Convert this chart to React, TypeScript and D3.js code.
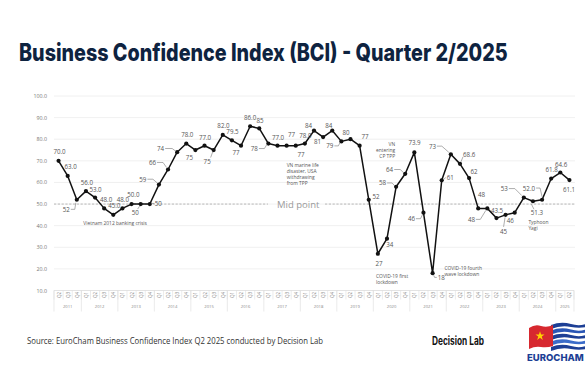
import React, { useEffect, useRef } from 'react';
import * as d3 from 'd3';

// quarters per year on the x axis
const years = ['2011', '2012', '2013', '2014', '2015', '2016', '2017', '2018', '2019', '2020', '2021', '2022', '2023', '2024', '2025'];
const yearQuarters = [
  ['Q2', 'Q3', 'Q4'],
  ['Q1', 'Q2', 'Q3', 'Q4'], ['Q1', 'Q2', 'Q3', 'Q4'], ['Q1', 'Q2', 'Q3', 'Q4'], ['Q1', 'Q2', 'Q3', 'Q4'],
  ['Q1', 'Q2', 'Q3', 'Q4'], ['Q1', 'Q2', 'Q3', 'Q4'], ['Q1', 'Q2', 'Q3', 'Q4'], ['Q1', 'Q2', 'Q3', 'Q4'],
  ['Q1', 'Q2', 'Q3', 'Q4'], ['Q1', 'Q2', 'Q3', 'Q4'], ['Q1', 'Q2', 'Q3', 'Q4'], ['Q1', 'Q2', 'Q3', 'Q4'],
  ['Q1', 'Q2', 'Q3', 'Q4'],
  ['Q1', 'Q2'],
];

const bci = [
  70.0, 63.0, 52,
  56.0, 53.0, 48.0, 45.0,
  48.0, 50.0, 50, 50,
  59, 66, 74, 78.0,
  75, 77.0, 75, 82.0,
  79.5, 77, 86.0, 85,
  78, 77.0, 77, 77,
  78.0, 84, 81, 84,
  79, 80, 77, 52,
  27, 34, 58, 64,
  73.9, 46, 18, 61,
  73, 68.6, 62, 48,
  48, 43.5, 45, 46,
  53, 51.3, 52.0, 61.8,
  64.6, 61.1,
];

const bciLabels = [
  '70.0', '63.0', '52',
  '56.0', '53.0', '48.0', '45.0',
  '48.0', '50.0', '50', '50',
  '59', '66', '74', '78.0',
  '75', '77.0', '75', '82.0',
  '79.5', '77', '86.0', '85',
  '78', '77.0', '77', '77',
  '78.0', '84', '81', '84',
  '79', '80', '77', '52',
  '27', '34', '58', '64',
  '73.9', '46', '18', '61',
  '73', '68.6', '62', '48',
  '48', '43.5', '45', '46',
  '53', '51.3', '52.0', '61.8',
  '64.6', '61.1',
];

const yTicks = [10, 20, 30, 40, 50, 60, 70, 80, 90, 100];

// label placement relative to each point: dx, dy, anchor, leader polyline
type Lab = [number, number, string, number[][]?];
const labelLayout: Lab[] = [
  [1, -9, 'middle'], [3, -9, 'middle'], [-7, 9.6, 'end', [[-6, 9.6], [-2, 9.6], [-1, 3]]],
  [1, -8.5, 'middle'], [0.5, -8.5, 'middle'], [2, -9, 'middle'], [1, -9, 'middle'],
  [0.5, -9, 'middle'], [1.8, -9.5, 'middle'], [-5.5, 8.5, 'middle', [[-3, 5], [-1, 2]]], [5, -1, 'start', [[1.5, -0.6], [4.5, -0.6]]],
  [-12.5, -5.4, 'end', [[-11.5, -5.4], [-6, -5.4], [-1.5, -1.5]]], [-12, -7, 'end', [[-11, -7], [-5, -7], [-1.5, -2]]],
  [-13, -3.7, 'end', [[-12, -3.7], [-5, -3.7], [-1.5, -1]]], [1, -9, 'middle'],
  [-6, 7, 'middle'], [0.5, -8, 'middle'], [-6.5, 11, 'middle', [[-3, 7.5], [-1, 2]]], [0.7, -9, 'middle'],
  [0.6, -8.5, 'middle'], [-5, 7, 'middle'], [0, -9, 'middle'], [0.8, -7.5, 'middle'],
  [-10.5, 5, 'end', [[-9.5, 5], [-4, 5], [-1.5, 1]]], [0.5, -8, 'middle'], [5, -11.5, 'middle'], [5.3, 8.5, 'middle'],
  [0.5, -8.5, 'middle'], [-5.5, -5.4, 'middle'], [-5.6, 4.8, 'middle'], [-3.4, -4.7, 'middle'],
  [-8, 4.5, 'end', [[-7, 4.5], [-3, 4.5], [-1.5, 1.5]]], [-4.4, -6.8, 'middle'], [5.4, -8.8, 'middle'], [7.3, -3.4, 'middle'],
  [1.2, 10, 'middle'], [2.8, 5.7, 'middle'], [-10, -3.8, 'end', [[-9, -3.8], [-4, -3.8], [-1.5, -1]]], [-12.2, -4.3, 'end', [[-11, -4.3], [-5, -4.3], [-1.5, -1]]],
  [0.2, -9.5, 'middle'], [-8.4, 6, 'end', [[-7.5, 6], [-3, 6], [-1, 2]]], [5.2, 4.2, 'start', [[1, 2], [2, 4.2], [4.2, 4.2]]], [5, -2.7, 'start', [[1.5, -0.5], [4, -2.7]]],
  [-14.8, -8.2, 'end', [[-14, -8.2], [-9, -8.2], [-2, -2]]], [3.1, -9.4, 'start', [[1, -2], [3, -7]]], [5, -6.9, 'middle'], [3.3, -14, 'middle'],
  [-12.3, 11, 'end', [[-11.5, 11], [-7, 11], [-1.5, 2]]], [0.6, -8, 'middle'], [-2, 17, 'middle', [[-0.5, 2.5], [-2, 12]]], [-4.5, 7.5, 'middle'],
  [-16, -9, 'end', [[-15, -9], [-9, -9], [-2, -2]]], [4, 11, 'middle', [[-1.5, 3], [1, 8]]], [-7, -11.7, 'end', [[-6, -11.7], [-2, -11.7], [0, -3]]], [0.4, -9.3, 'middle'],
  [0.8, -8.5, 'middle'], [-0.4, 9.5, 'middle'],
];

// event notes, placed in data space (point index, value)
const notes = [
  { i: 6.2, v: 41.2, anchor: 'middle', lines: ['Vietnam 2012 banking crisis'] },
  { i: 25, v: 68, anchor: 'start', lines: ['VN marine life', 'disaster, USA', 'withdrawing', 'from TPP'] },
  { i: 36.9, v: 77.6, anchor: 'end', lines: ['VN', 'entering', 'CP TPP'] },
  { i: 34.8, v: 16.5, anchor: 'start', lines: ['COVID-19 first', 'lockdown'] },
  { i: 42.3, v: 20.2, anchor: 'start', lines: ['COVID-19 fourth', 'wave lockdown'] },
  { i: 51.5, v: 41.5, anchor: 'start', lines: ['Typhoon', 'Yagi'] },
];

const font = "'Open Sans', 'Noto Sans', sans-serif";

const BciChart: React.FC = () => {
  const svgRef = useRef<SVGSVGElement>(null);

  useEffect(() => {
    if (!svgRef.current) return;
    const svg = d3.select(svgRef.current);
    svg.selectAll('*').remove();

    const W = 585, H = 365;
    const left = 54, right = 574;
    svg.append('rect').attr('width', W).attr('height', H).attr('fill', '#fff');

    const idx = bci.map((_, i) => i);
    const x = d3.scaleBand<number>().domain(idx).range([left, right]);
    const cx = (i: number) => (x(Math.floor(i)) ?? 0) + x.bandwidth() / 2 + (i % 1) * x.step();
    const y = d3.scaleLinear().domain([10, 100]).range([290.5, 96]);

    // title, squeezed horizontally to the reference width
    const title = svg.append('text')
      .attr('font-family', "Inter, 'Open Sans', sans-serif").attr('font-weight', 800)
      .attr('font-size', 24).attr('fill', '#0e2340')
      .text('Business Confidence Index (BCI) - Quarter 2/2025');
    const tw = (title.node() as SVGTextElement).getComputedTextLength() || 489;
    title.attr('transform', `translate(19,61) scale(${489 / tw},1)`);

    // grid
    const g = svg.append('g');
    g.selectAll('line.grid')
      .data(yTicks.filter(t => t > 10))
      .join('line')
      .attr('x1', left).attr('x2', right + 1)
      .attr('y1', d => y(d)).attr('y2', d => y(d))
      .attr('stroke', '#ececec').attr('stroke-width', 0.8);

    g.selectAll('text.ytick')
      .data(yTicks)
      .join('text')
      .attr('x', 47).attr('y', d => y(d))
      .attr('text-anchor', 'end').attr('dominant-baseline', 'central')
      .attr('font-family', font).attr('font-size', 5.3).attr('fill', '#777')
      .text(d => d.toFixed(1));

    // mid point line
    const midY = y(50);
    const midTextX = 277;
    [[left, midTextX - 9], [midTextX + 48, right + 1]].forEach(([a, b]) => {
      g.append('line')
        .attr('x1', a).attr('x2', b).attr('y1', midY).attr('y2', midY)
        .attr('stroke', '#a8a8a8').attr('stroke-width', 0.8).attr('stroke-dasharray', '2.2,1.6');
    });
    g.append('text')
      .attr('x', midTextX).attr('y', midY)
      .attr('dominant-baseline', 'central')
      .attr('font-family', font).attr('font-size', 9.5).attr('fill', '#9a9a9a')
      .text('Mid point');

    // quarter / year table
    const tTop = y(10), qBottom = tTop + 9, tBottom = tTop + 21;
    g.append('line').attr('x1', left).attr('x2', right).attr('y1', tTop).attr('y2', tTop)
      .attr('stroke', '#dcdcdc').attr('stroke-width', 0.8);
    const quarters = yearQuarters.flat();
    g.selectAll('line.qsep')
      .data(d3.range(quarters.length + 1))
      .join('line')
      .attr('x1', d => left + d * x.step()).attr('x2', d => left + d * x.step())
      .attr('y1', tTop).attr('y2', qBottom)
      .attr('stroke', '#dedede').attr('stroke-width', 0.6);
    g.selectAll('text.q')
      .data(quarters)
      .join('text')
      .attr('transform', (d, i) => `translate(${cx(i)},${(tTop + qBottom) / 2}) rotate(-90)`)
      .attr('text-anchor', 'middle').attr('dominant-baseline', 'central')
      .attr('font-family', font).attr('font-size', 4.6).attr('fill', '#888')
      .text(d => d);

    let start = 0;
    const yearBounds = yearQuarters.map(q => { const s = start; start += q.length; return [s, start]; });
    g.selectAll('line.ysep')
      .data([0, ...yearBounds.map(b => b[1])])
      .join('line')
      .attr('x1', d => left + d * x.step()).attr('x2', d => left + d * x.step())
      .attr('y1', tTop).attr('y2', tBottom)
      .attr('stroke', '#dcdcdc').attr('stroke-width', 0.6);
    g.selectAll('text.year')
      .data(years)
      .join('text')
      .attr('x', (d, i) => left + ((yearBounds[i][0] + yearBounds[i][1]) / 2) * x.step())
      .attr('y', qBottom + 6.5)
      .attr('text-anchor', 'middle').attr('dominant-baseline', 'central')
      .attr('font-family', font).attr('font-size', 4.2).attr('fill', '#888')
      .text(d => d);

    // notes
    notes.forEach(n => {
      const t = g.append('text')
        .attr('x', cx(n.i)).attr('y', y(n.v))
        .attr('text-anchor', n.anchor)
        .attr('font-family', font).attr('font-size', 4.9).attr('fill', '#555');
      n.lines.forEach((l, k) => {
        t.append('tspan').attr('x', cx(n.i)).attr('y', y(n.v) + k * 6 + 1.8).text(l);
      });
    });

    // line + markers
    const line = d3.line<number>().x((d, i) => cx(i)).y(d => y(d));
    g.append('path').datum(bci)
      .attr('d', line)
      .attr('fill', 'none').attr('stroke', '#111').attr('stroke-width', 1.5)
      .attr('stroke-linejoin', 'round');
    g.selectAll('circle.pt')
      .data(bci)
      .join('circle')
      .attr('cx', (d, i) => cx(i)).attr('cy', d => y(d)).attr('r', 2.1)
      .attr('fill', '#111');

    // value labels and leaders
    bci.forEach((v, i) => {
      const [dx, dy, anchor, leader] = labelLayout[i];
      const px = cx(i), py = y(v);
      if (leader) {
        g.append('polyline')
          .attr('points', leader.map(p => `${px + p[0]},${py + p[1]}`).join(' '))
          .attr('fill', 'none').attr('stroke', '#777').attr('stroke-width', 0.6);
      }
      g.append('text')
        .attr('x', px + dx).attr('y', py + dy)
        .attr('text-anchor', anchor).attr('dominant-baseline', 'central')
        .attr('font-family', font).attr('font-size', 6.2).attr('fill', '#555')
        .text(bciLabels[i]);
    });

    // footer
    svg.append('text')
      .attr('x', 27).attr('y', 343.5)
      .attr('textLength', 296).attr('lengthAdjust', 'spacingAndGlyphs')
      .attr('font-family', font).attr('font-size', 8.5).attr('fill', '#333')
      .text('Source: EuroCham Business Confidence Index Q2 2025 conducted by Decision Lab');

    svg.append('text')
      .attr('x', 432).attr('y', 345)
      .attr('textLength', 52).attr('lengthAdjust', 'spacingAndGlyphs')
      .attr('font-family', "Inter, 'Open Sans', sans-serif").attr('font-weight', 700)
      .attr('font-size', 11.5).attr('fill', '#111')
      .text('Decision Lab');

    // EuroCham logo (simplified flag)
    const logo = svg.append('g').attr('transform', 'translate(527,322)');
    const stripes = ['#1d3f95', '#2a56b5', '#1d3f95', '#3b6cc9', '#1d3f95'];
    stripes.forEach((c, k) => {
      logo.append('path')
        .attr('d', `M${24},${3 + k * 5.5} q10,-4 20,-1 t20,-2 l0,4 q-10,3 -20,1 t-20,2 z`)
        .attr('fill', c);
    });
    logo.append('path')
      .attr('d', 'M2,6 q6,-4 12,-2 t12,-1 l0,21 q-6,2 -12,1 t-12,2 z')
      .attr('fill', '#d7282f');
    logo.append('path')
      .attr('d', d3.symbol().type(d3.symbolStar).size(26)() as string)
      .attr('transform', 'translate(13,14)')
      .attr('fill', '#ffd200');
    logo.append('text')
      .attr('x', 0).attr('y', 39)
      .attr('font-family', "Inter, 'Open Sans', sans-serif").attr('font-weight', 800)
      .attr('font-size', 9.5).attr('fill', '#1d3f95')
      .text('EUROCHAM');
  }, []);

  return <svg ref={svgRef} width={585} height={365} style={{ display: 'block' }} />;
};

export default function App() {
  return (
    <div style={{ position: 'absolute', left: 0, top: 0, width: 585, height: 365, overflow: 'hidden' }}>
      <BciChart />
    </div>
  );
}
